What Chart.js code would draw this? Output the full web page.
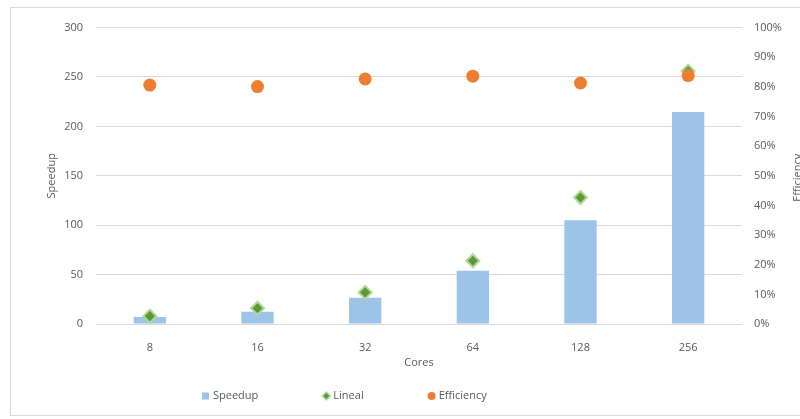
<!DOCTYPE html>
<html>
<head>
<meta charset="utf-8">
<script src="https://cdn.jsdelivr.net/npm/chart.js@4/dist/chart.umd.min.js"></script>
<style>
  html, body { margin: 0; padding: 0; background: #fff; overflow: hidden; }
  #frame {
    position: absolute; left: 10px; top: 7px;
    width: 830px; height: 407px;
    border: 1px solid #d9d9d9;
  }
  #chart { display: block; }
</style>
</head>
<body>
<div id="frame"><canvas id="chart" width="812" height="407"></canvas></div>
<script>
const cores = ['8', '16', '32', '64', '128', '256'];
const speedup = [7, 12.5, 26.5, 54, 105, 214.5];
const lineal = [8, 16, 32, 64, 128, 256];
const efficiency = [0.806, 0.801, 0.827, 0.836, 0.813, 0.838];

const speedupTicks = [0, 50, 100, 150, 200, 250, 300];
const efficiencyTicks = [0, 0.1, 0.2, 0.3, 0.4, 0.5, 0.6, 0.7, 0.8, 0.9, 1];

const textColor = '#595959';
const gridColor = '#d9d9d9';
const font = { family: '"Open Sans", sans-serif', size: 11 };

// right axis title reads bottom-to-top, plus the legend row under the axis title
const extras = {
    id: 'extras',
    afterDraw(chart) {
        const ctx = chart.ctx;
        const area = chart.chartArea;
        const y1 = chart.scales.y1;
        ctx.save();
        ctx.font = '11px "Open Sans", sans-serif';
        ctx.fillStyle = textColor;

        ctx.save();
        ctx.translate(y1.left + 56, (area.top + area.bottom) / 2 + 2);
        ctx.rotate(-Math.PI / 2);
        ctx.textAlign = 'center';
        ctx.textBaseline = 'middle';
        ctx.fillText('Efficiency', 0, 0);
        ctx.restore();

        const ly = 388;
        let x = area.left + 106;
        ctx.textBaseline = 'middle';
        ctx.textAlign = 'left';
        chart.data.datasets.forEach(ds => {
            if (ds.pointStyle === 'rectRot') {
                ctx.beginPath();
                ctx.moveTo(x + 4, ly - 5);
                ctx.lineTo(x + 9, ly);
                ctx.lineTo(x + 4, ly + 5);
                ctx.lineTo(x - 1, ly);
                ctx.closePath();
                ctx.fillStyle = ds.pointBorderColor;
                ctx.fill();
                ctx.beginPath();
                ctx.moveTo(x + 4, ly - 3);
                ctx.lineTo(x + 7, ly);
                ctx.lineTo(x + 4, ly + 3);
                ctx.lineTo(x + 1, ly);
                ctx.closePath();
                ctx.fillStyle = ds.pointBackgroundColor;
                ctx.fill();
            } else if (ds.pointStyle === 'circle') {
                ctx.beginPath();
                ctx.arc(x + 4, ly, 4, 0, Math.PI * 2);
                ctx.fillStyle = ds.pointBackgroundColor;
                ctx.fill();
            } else {
                ctx.fillStyle = ds.backgroundColor;
                ctx.fillRect(x, ly - 3.5, 7, 7);
            }
            ctx.fillStyle = textColor;
            ctx.fillText(ds.label, x + 11, ly);
            x += 11 + ctx.measureText(ds.label).width + 64;
        });
        ctx.restore();
    }
};

new Chart(document.getElementById('chart'), {
    type: 'bar',
    data: {
        labels: cores,
        datasets: [
            {
                label: 'Speedup',
                data: speedup,
                backgroundColor: '#9dc3e6',
                barPercentage: 0.3,
                categoryPercentage: 1,
                pointStyle: 'rect',
                yAxisID: 'y',
                order: 3
            },
            {
                type: 'line',
                label: 'Lineal',
                data: lineal,
                showLine: false,
                pointStyle: 'rectRot',
                pointRadius: 6.5,
                pointBackgroundColor: '#5a9a38',
                pointBorderColor: '#b3d89a',
                pointBorderWidth: 2,
                yAxisID: 'y',
                order: 2
            },
            {
                type: 'line',
                label: 'Efficiency',
                data: efficiency,
                showLine: false,
                pointStyle: 'circle',
                pointRadius: 6.5,
                pointBackgroundColor: '#ed7d31',
                pointBorderColor: '#ed7d31',
                pointBorderWidth: 0,
                yAxisID: 'y1',
                order: 1
            }
        ]
    },
    options: {
        responsive: false,
        animation: false,
        layout: { padding: { top: 16, bottom: 31, left: 0, right: 0 } },
        plugins: {
            legend: { display: false },
            tooltip: { enabled: false }
        },
        scales: {
            x: {
                grid: { display: false },
                border: { display: false },
                ticks: { color: textColor, font: font, padding: 9 },
                title: { display: true, text: 'Cores', color: textColor, font: font, padding: { top: 0, bottom: 15 } },
                afterFit(scale) { scale.height = 60; }
            },
            y: {
                position: 'left',
                min: 0,
                max: 300,
                afterBuildTicks(scale) { scale.ticks = speedupTicks.map(v => ({ value: v })); },
                grid: { color: gridColor, drawTicks: false },
                border: { display: false },
                ticks: { color: textColor, font: font, padding: 13 },
                title: { display: true, text: 'Speedup', color: textColor, font: font, padding: { top: 34, bottom: 0 } },
                afterFit(scale) { scale.width = 85; }
            },
            y1: {
                position: 'right',
                min: 0,
                max: 1,
                afterBuildTicks(scale) { scale.ticks = efficiencyTicks.map(v => ({ value: v })); },
                grid: { display: false, drawTicks: false },
                border: { display: false },
                ticks: {
                    color: textColor,
                    font: font,
                    padding: 12,
                    callback: v => Math.round(v * 100) + '%'
                },
                afterFit(scale) { scale.width = 81; }
            }
        }
    },
    plugins: [extras]
});
</script>
</body>
</html>
